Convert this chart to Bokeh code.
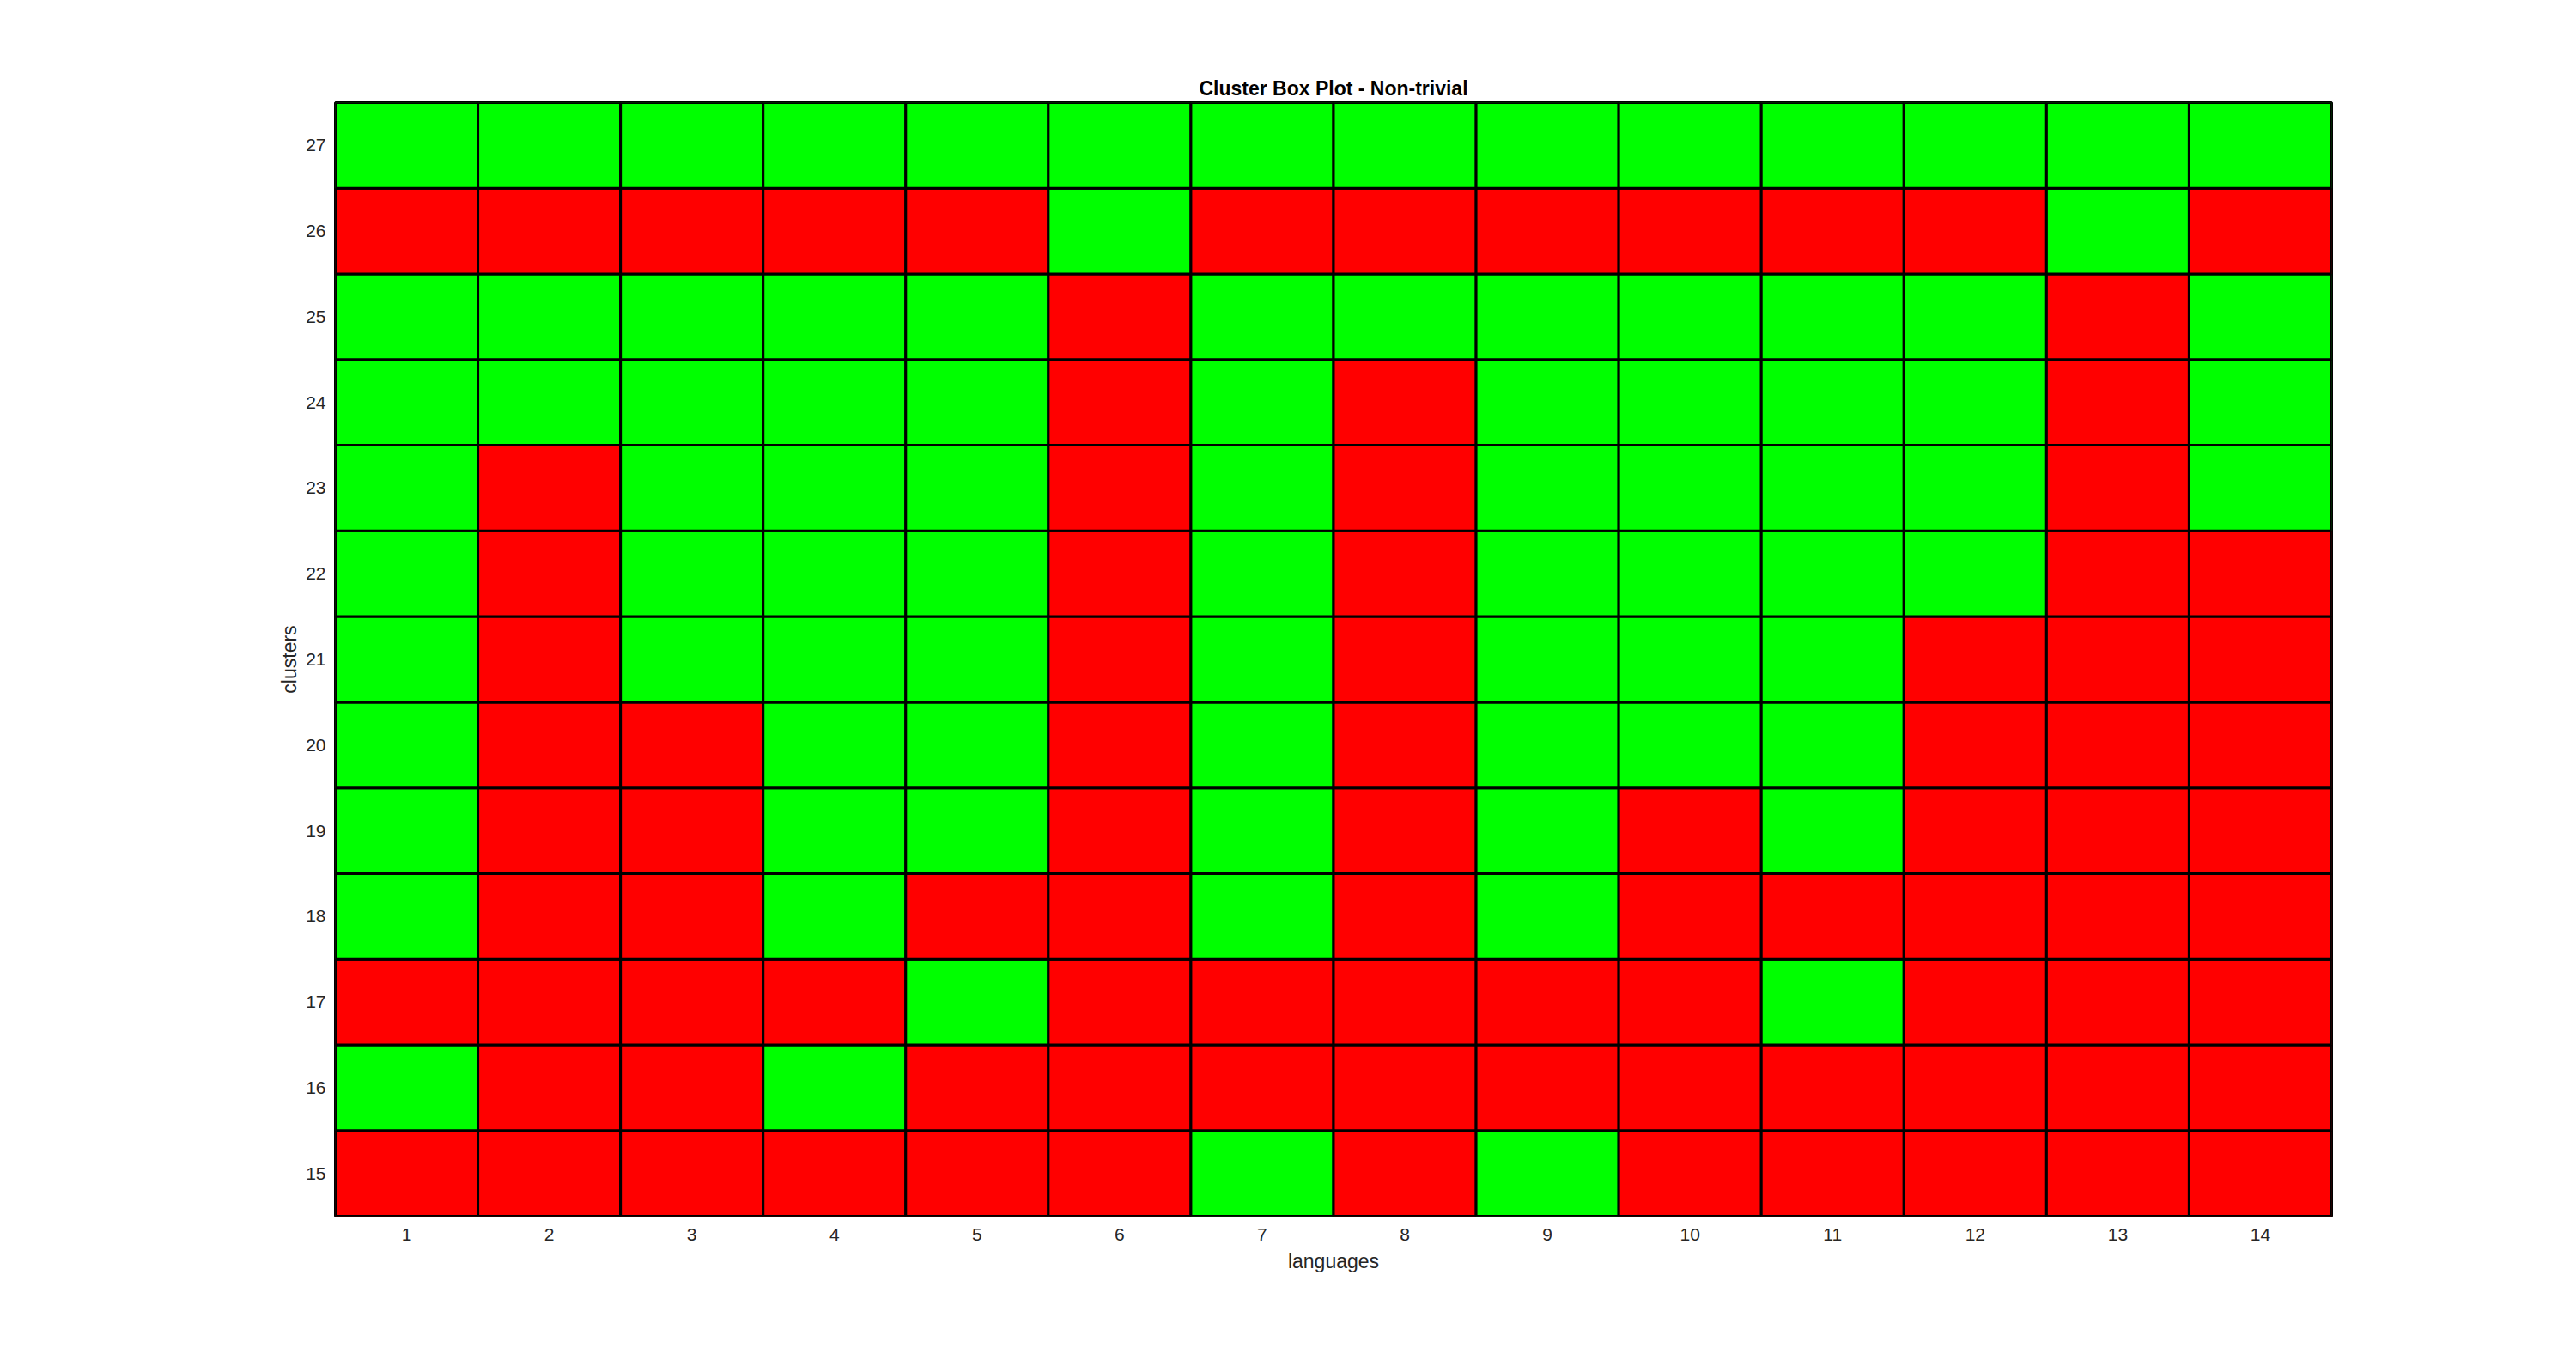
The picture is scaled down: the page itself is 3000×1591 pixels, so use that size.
from bokeh.plotting import figure
from bokeh.models import ColumnDataSource, FixedTicker, Range1d, Title
from bokeh.embed import file_html
from bokeh.resources import INLINE

languages = list(range(1, 15))
clusters = list(range(15, 28))

# 1 = green (pass), 0 = red (fail); one list per cluster, languages 1..14
c15 = [0, 0, 0, 0, 0, 0, 1, 0, 1, 0, 0, 0, 0, 0]
c16 = [1, 0, 0, 1, 0, 0, 0, 0, 0, 0, 0, 0, 0, 0]
c17 = [0, 0, 0, 0, 1, 0, 0, 0, 0, 0, 1, 0, 0, 0]
c18 = [1, 0, 0, 1, 0, 0, 1, 0, 1, 0, 0, 0, 0, 0]
c19 = [1, 0, 0, 1, 1, 0, 1, 0, 1, 0, 1, 0, 0, 0]
c20 = [1, 0, 0, 1, 1, 0, 1, 0, 1, 1, 1, 0, 0, 0]
c21 = [1, 0, 1, 1, 1, 0, 1, 0, 1, 1, 1, 0, 0, 0]
c22 = [1, 0, 1, 1, 1, 0, 1, 0, 1, 1, 1, 1, 0, 0]
c23 = [1, 0, 1, 1, 1, 0, 1, 0, 1, 1, 1, 1, 0, 1]
c24 = [1, 1, 1, 1, 1, 0, 1, 0, 1, 1, 1, 1, 0, 1]
c25 = [1, 1, 1, 1, 1, 0, 1, 1, 1, 1, 1, 1, 0, 1]
c26 = [0, 0, 0, 0, 0, 1, 0, 0, 0, 0, 0, 0, 1, 0]
c27 = [1, 1, 1, 1, 1, 1, 1, 1, 1, 1, 1, 1, 1, 1]

status_rows = [c15, c16, c17, c18, c19, c20, c21, c22, c23, c24, c25, c26, c27]
palette = {1: "#00FF00", 0: "#FF0000"}

xs, ys, cols = [], [], []
for cl, row in zip(clusters, status_rows):
    for lang, s in zip(languages, row):
        xs.append(lang)
        ys.append(cl)
        cols.append(palette[s])
src = ColumnDataSource(dict(x=xs, y=ys, color=cols))

FONT = "Liberation Sans"
TXT = "#262626"

p = figure(width=2984, height=1575, output_backend="svg", toolbar_location=None,
           x_range=Range1d(0.5, 14.5), y_range=Range1d(14.5, 27.5),
           min_border_left=390, min_border_right=269, min_border_top=119, min_border_bottom=159)
p.title = None
p.add_layout(Title(text="Cluster Box Plot - Non-trivial", align="center",
                   text_font=FONT, text_font_size="23px", text_font_style="bold",
                   text_color="#000000", standoff=8), "above")

p.rect(x="x", y="y", width=1, height=1, source=src, fill_color="color",
       line_color="black", line_width=3)

p.xgrid.visible = False
p.ygrid.visible = False
p.outline_line_color = "black"
p.outline_line_width = 3
p.background_fill_color = "white"
p.border_fill_color = "white"

for ax in (p.xaxis[0], p.yaxis[0]):
    ax.major_tick_line_color = None
    ax.minor_tick_line_color = None
    ax.axis_line_color = None
    ax.major_tick_out = 0
    ax.major_tick_in = 0
    ax.major_label_text_font = FONT
    ax.major_label_text_font_size = "21px"
    ax.major_label_text_color = TXT
    ax.axis_label_text_font = FONT
    ax.axis_label_text_font_size = "23px"
    ax.axis_label_text_font_style = "normal"
    ax.axis_label_text_color = TXT

p.xaxis[0].ticker = FixedTicker(ticks=languages)
p.yaxis[0].ticker = FixedTicker(ticks=clusters)
p.xaxis[0].axis_label = "languages"
p.yaxis[0].axis_label = "clusters"
p.xaxis[0].major_label_standoff = 14
p.yaxis[0].major_label_standoff = 11
p.xaxis[0].axis_label_standoff = 8
p.yaxis[0].axis_label_standoff = 3

open("out.html", "w").write(file_html(p, INLINE))
